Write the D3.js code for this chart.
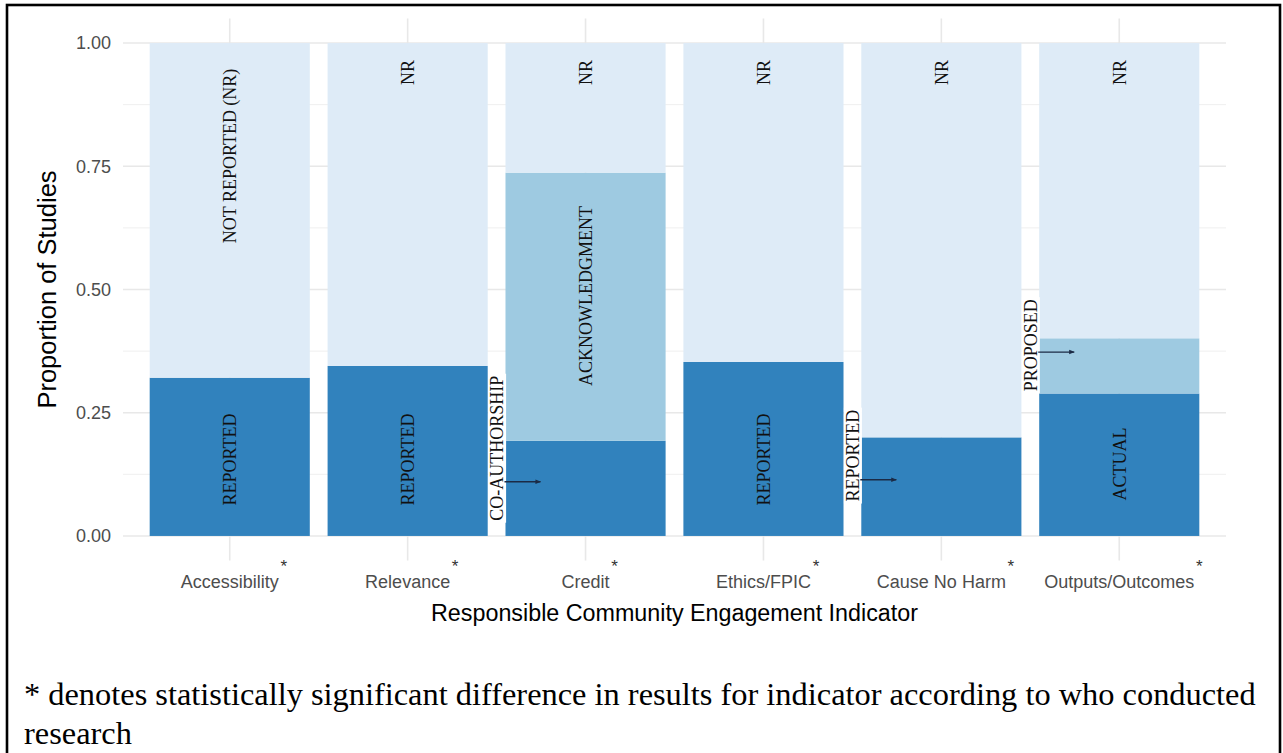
<!DOCTYPE html>
<html>
<head>
<meta charset="utf-8">
<script src="https://cdn.jsdelivr.net/npm/d3@7"></script>
<style>
  html, body { margin: 0; padding: 0; background: #ffffff; }
  svg { display: block; }
</style>
</head>
<body>
<svg id="chart" width="1283" height="753"></svg>
<script>
// Indicators on the x axis
const categories = ["Accessibility", "Relevance", "Credit", "Ethics/FPIC", "Cause No Harm", "Outputs/Outcomes"];

// Proportion of studies in each segment (bottom to top)
const reportedValues    = [0.321, 0.345, 0.193, 0.353, 0.200, 0.289]; // reported / co-authorship / actual
const partialValues     = [0.000, 0.000, 0.544, 0.000, 0.000, 0.112]; // acknowledgment / proposed
const notReportedValues = [0.679, 0.655, 0.263, 0.647, 0.800, 0.599];

// Segment text
const reportedLabels    = ["REPORTED", "REPORTED", "CO-AUTHORSHIP", "REPORTED", "REPORTED", "ACTUAL"];
const partialLabels     = ["", "", "ACKNOWLEDGMENT", "", "", "PROPOSED"];
const notReportedLabels = ["NOT REPORTED (NR)", "NR", "NR", "NR", "NR", "NR"];

// Indicators with a statistically significant difference by who conducted the research
const significant = [true, true, true, true, true, true];

// Axis ticks
const yMajorTicks = [0, 0.25, 0.50, 0.75, 1.00];
const yMinorTicks = [0.125, 0.375, 0.625, 0.875];

const colors = { reported: "#3182bd", partial: "#9ecae1", notReported: "#deebf7" };

const svg = d3.select("#chart");

// Outer frame
svg.append("rect")
  .attr("x", 7).attr("y", 5).attr("width", 1273).attr("height", 760)
  .attr("fill", "none").attr("stroke", "#000").attr("stroke-width", 2.6);

// Panel
const panel = { left: 123, right: 1226, top: 18.4, bottom: 560.6 };

const x = d3.scaleBand()
  .domain(categories)
  .range([panel.left, panel.right])
  .paddingInner(0.1)
  .paddingOuter(0.15);

const y = d3.scaleLinear()
  .domain([-0.05, 1.05])
  .range([panel.bottom, panel.top]);

// Grid
const grid = svg.append("g");
grid.selectAll("line.minor").data(yMinorTicks).join("line")
  .attr("x1", panel.left).attr("x2", panel.right)
  .attr("y1", d => y(d)).attr("y2", d => y(d))
  .attr("stroke", "#ededed").attr("stroke-width", 0.9);
grid.selectAll("line.major").data(yMajorTicks).join("line")
  .attr("x1", panel.left).attr("x2", panel.right)
  .attr("y1", d => y(d)).attr("y2", d => y(d))
  .attr("stroke", "#e8e8e8").attr("stroke-width", 1.6);
grid.selectAll("line.vx").data(categories).join("line")
  .attr("x1", d => x(d) + x.bandwidth() / 2).attr("x2", d => x(d) + x.bandwidth() / 2)
  .attr("y1", panel.top).attr("y2", panel.bottom)
  .attr("stroke", "#e8e8e8").attr("stroke-width", 1.6);

// Stacked bars
const rows = categories.map((c, i) => ({
  category: c,
  reported: reportedValues[i],
  partial: partialValues[i],
  notReported: notReportedValues[i]
}));
const keys = ["reported", "partial", "notReported"];
const stacked = d3.stack().keys(keys)(rows);

const bars = svg.append("g");
stacked.forEach(layer => {
  bars.selectAll(null).data(layer).join("rect")
    .attr("x", d => x(d.data.category))
    .attr("width", x.bandwidth())
    .attr("y", d => y(d[1]))
    .attr("height", d => Math.max(0, y(d[0]) - y(d[1])))
    .attr("fill", colors[layer.key]);
});

// Segment labels (rotated, serif)
const labelFont = "'Liberation Serif', 'Times New Roman', serif";
const labelSize = 18;
const inside = [];
const callouts = [];
categories.forEach((c, i) => {
  const cx = x(c) + x.bandwidth() / 2;
  // not reported segment
  inside.push({ text: notReportedLabels[i], cx, v: i === 0 ? 0.771 : 0.94 });
  // partial segment
  if (partialLabels[i]) {
    if (partialValues[i] > 0.3) {
      inside.push({ text: partialLabels[i], cx, v: reportedValues[i] + partialValues[i] * 0.54 });
    } else {
      callouts.push({ text: partialLabels[i], cat: c, v: 0.387, arrowV: reportedValues[i] + partialValues[i] * 0.75 });
    }
  }
  // reported segment
  if (reportedValues[i] > 0.25) {
    inside.push({ text: reportedLabels[i], cx, v: reportedLabels[i] === "ACTUAL" ? 0.146 : 0.155 });
  } else {
    callouts.push({ text: reportedLabels[i], cat: c, v: reportedLabels[i] === "CO-AUTHORSHIP" ? 0.178 : 0.163,
                    arrowV: reportedValues[i] * 0.57 });
  }
});

const labels = svg.append("g")
  .attr("font-family", labelFont)
  .attr("font-size", labelSize)
  .attr("fill", "#111");

labels.selectAll("text.inside").data(inside).join("text")
  .attr("transform", d => `translate(${d.cx},${y(d.v)}) rotate(-90)`)
  .attr("text-anchor", "middle")
  .attr("dy", "0.35em")
  .text(d => d.text);

// Callouts sitting in the gap left of a bar, with an arrow into the segment
svg.append("defs").append("marker")
  .attr("id", "arrowhead")
  .attr("viewBox", "0 0 10 10")
  .attr("refX", 9).attr("refY", 5)
  .attr("markerWidth", 4).attr("markerHeight", 4)
  .attr("orient", "auto")
  .append("path")
  .attr("d", "M0,1 L10,5 L0,9 Z")
  .attr("fill", "#1b2a45");

const gap = x.step() - x.bandwidth();
const calloutG = svg.append("g");
callouts.forEach(d => {
  const bx = x(d.cat);
  const cx = bx - gap / 2 + 0.5;
  const t = calloutG.append("text")
    .attr("font-family", labelFont)
    .attr("font-size", labelSize)
    .attr("fill", "#111")
    .attr("text-anchor", "middle")
    .attr("dy", "0.35em")
    .attr("transform", `translate(${cx},${y(d.v)}) rotate(-90)`)
    .text(d.text);
  const len = t.node().getComputedTextLength();
  calloutG.insert("rect", "text")
    .attr("x", cx - 9).attr("width", 18)
    .attr("y", y(d.v) - len / 2 - 2).attr("height", len + 4)
    .attr("fill", "#fff");
  calloutG.append("line")
    .attr("x1", bx - 1).attr("x2", bx + 35)
    .attr("y1", y(d.arrowV)).attr("y2", y(d.arrowV))
    .attr("stroke", "#1b2a45").attr("stroke-width", 1.4)
    .attr("marker-end", "url(#arrowhead)");
});

// Axes
const sans = "'Liberation Sans', Arial, Helvetica, sans-serif";

const yAxis = svg.append("g")
  .attr("transform", `translate(${panel.left},0)`)
  .call(d3.axisLeft(y).tickValues(yMajorTicks).tickFormat(d3.format(".2f")).tickSize(0).tickPadding(12));
yAxis.select(".domain").remove();
yAxis.selectAll("text").attr("font-family", sans).attr("font-size", 18).attr("fill", "#4d4d4d");

const xAxis = svg.append("g")
  .attr("transform", `translate(0,${panel.bottom})`)
  .call(d3.axisBottom(x).tickSize(0).tickPadding(15));
xAxis.select(".domain").remove();
xAxis.selectAll("text").attr("font-family", sans).attr("font-size", 18).attr("fill", "#4d4d4d");

// Significance markers after each tick label
xAxis.selectAll(".tick").each(function (d, i) {
  if (!significant[i]) return;
  const tick = d3.select(this);
  const w = tick.select("text").node().getComputedTextLength();
  tick.append("text")
    .attr("x", w / 2 + 5)
    .attr("y", 11)
    .attr("font-family", sans)
    .attr("font-size", 17)
    .attr("fill", "#333")
    .attr("text-anchor", "middle")
    .text("*");
});

// Axis titles
svg.append("text")
  .attr("x", (panel.left + panel.right) / 2)
  .attr("y", 621)
  .attr("text-anchor", "middle")
  .attr("font-family", sans).attr("font-size", 23.3).attr("fill", "#000")
  .text("Responsible Community Engagement Indicator");

svg.append("text")
  .attr("transform", `translate(56,${(panel.top + panel.bottom) / 2}) rotate(-90)`)
  .attr("text-anchor", "middle")
  .attr("font-family", sans).attr("font-size", 25.5).attr("fill", "#000")
  .text("Proportion of Studies");

// Footnote
const note = svg.append("text")
  .attr("font-family", labelFont).attr("font-size", 32.4).attr("fill", "#000");
note.append("tspan").attr("x", 24).attr("y", 705)
  .text("* denotes statistically significant difference in results for indicator according to who conducted");
note.append("tspan").attr("x", 24).attr("y", 744)
  .text("research");
</script>
</body>
</html>
